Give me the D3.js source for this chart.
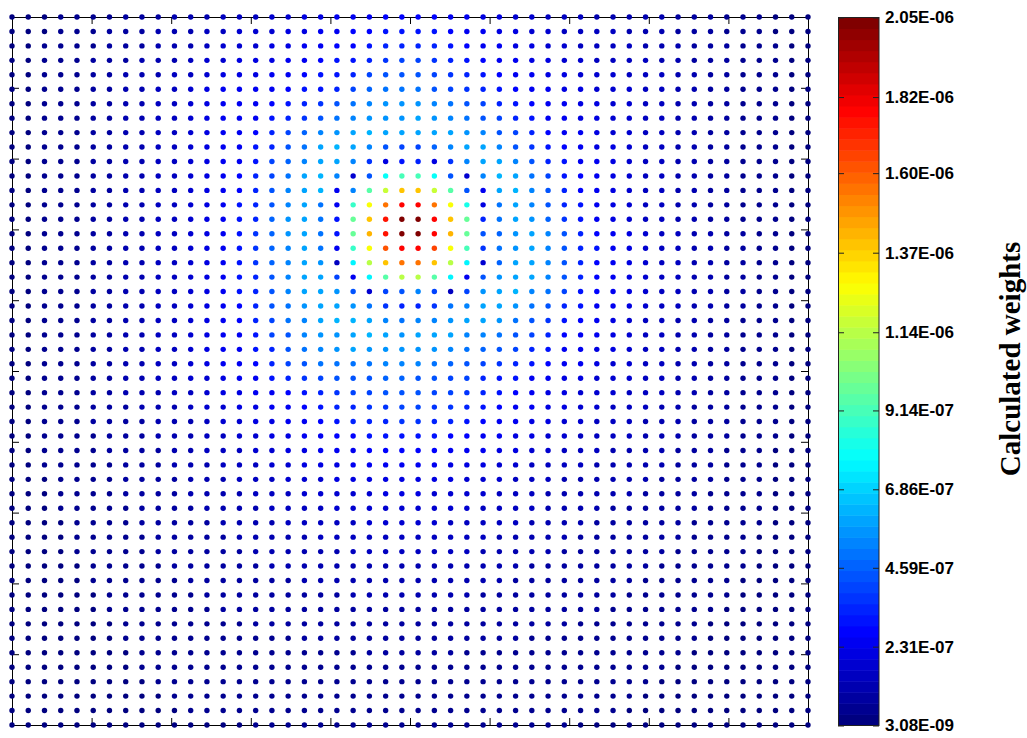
<!DOCTYPE html>
<html>
<head>
<meta charset="utf-8">
<script src="https://cdn.jsdelivr.net/npm/d3@7"></script>
<style>
  body { margin: 0; background: #fff; }
  .frame path, .frame line { stroke: #000; }
  .cbar text { font-family: "Liberation Sans", Arial, sans-serif; font-weight: bold; font-size: 17px; fill: #000; }
</style>
</head>
<body>
<div id="chart"></div>
<script>
// colour level (0 = darkest blue .. 61 = darkest red) of each dot,
// one string per grid row, top row first, 50 dots per row
var levelChars = "0123456789abcdefghijklmnopqrstuvwxyzABCDEFGHIJKLMNOPQRSTUVWXYZ";
var levelRows = [
  "000111122233" + "3444556677788" + "8877665544433" + "333222111000",
  "000111222333" + "4455566778899" + "9987766554444" + "333222111000",
  "001111222333" + "45556677889aa" + "aa98776655444" + "433322211100",
  "001112223334" + "5566677899abc" + "cba9877665544" + "443322211100",
  "001112233344" + "566677899acdd" + "dcba987766555" + "444332211100",
  "001112233445" + "67777899aceff" + "fdcba98776655" + "544332211100",
  "001112233445" + "677789abdfghh" + "hgfdca9877665" + "544332211100",
  "001112233445" + "67779abdfghhh" + "ihgfdca977665" + "544332211100",
  "001112233445" + "6778aceghijii" + "iiihgdca87765" + "544332211100",
  "001112233445" + "6779adfijigdc" + "cegiigdb98766" + "544332211100",
  "001112233445" + "6779cegiigb69" + "a6bgiigda9776" + "544332211100",
  "001112233445" + "678acfijg5dnr" + "rnd5gjifc9876" + "544332211100",
  "001112233445" + "678adgij7gszF" + "Fzsd7ijgda876" + "544332211100",
  "001112233445" + "679adgif7qCKR" + "RKCo6figda976" + "544332211100",
  "001112233445" + "679aehif9tFQZ" + "ZRFtafiheb976" + "544332211100",
  "001112233445" + "679behif9tGQZ" + "ZRGtdehigda87" + "654433221100",
  "001112233445" + "679begif7qCMR" + "RNCrbfhigda97" + "654433221100",
  "001112233445" + "679begih4myFK" + "KFym5eiigda87" + "654433221100",
  "001112233445" + "679adgiic7msy" + "ysm7dhiigda87" + "654433221100",
  "001112233445" + "679adgiihd5cd" + "gc4chijgfc987" + "654433221100",
  "001112233445" + "678adfhiihfba" + "abfgiihfda977" + "654433221100",
  "001112233445" + "678acfgijjigf" + "gghiihfdb9876" + "544332211100",
  "001112233445" + "6779cdghhijih" + "iiiggfdca8776" + "544332211100",
  "001112233445" + "6779adfghihhh" + "hhgfedca97766" + "544332211100",
  "001112233445" + "6778acdffffgg" + "gfedcba987765" + "544332211100",
  "001112233445" + "56779abcdddee" + "ddcca99776655" + "544332211100",
  "001112233344" + "5667789abccdd" + "dccba98766555" + "444332211100",
  "001112223334" + "55667789aabbc" + "cbba987766554" + "443322211100",
  "001112222333" + "455667789aaab" + "baa9877665544" + "433322211100",
  "001111222333" + "4455667788999" + "9988776655444" + "433322211100",
  "001111222233" + "4445566777888" + "8877766554443" + "333222111000",
  "001111122233" + "3444556667777" + "7766655444433" + "333222111000",
  "000111122223" + "3344455566666" + "6665554443333" + "332222111000",
  "000111122223" + "3334445555566" + "6555544433333" + "322221111000",
  "000111112222" + "3333444455555" + "5555444433332" + "222221111000",
  "000011112222" + "2333344444555" + "5544444333322" + "222211111000",
  "000011111222" + "2233333444444" + "4444433333222" + "222211110000",
  "000011111222" + "2223333334444" + "4444333332222" + "222111110000",
  "000001111122" + "2222333333333" + "3333333222222" + "221111110000",
  "000001111112" + "2222223333333" + "3333332222222" + "211111100000",
  "000000111111" + "2222222223333" + "3333222222222" + "111111100000",
  "000000111111" + "1222222222222" + "2222222222221" + "111111000000",
  "000000011111" + "1112222222222" + "2222222222111" + "111110000000",
  "000000011111" + "1111112222222" + "2222222111111" + "111110000000",
  "000000001111" + "1111111111222" + "2221111111111" + "111100000000",
  "000000001111" + "1111111111111" + "1111111111111" + "111000000000",
  "000000000111" + "1111111111111" + "1111111111111" + "110000000000",
  "000000000011" + "1111111111111" + "1111111111111" + "100000000000",
  "000000000001" + "1111111111111" + "1111111111111" + "000000000000",
  "000000000000" + "0001111111111" + "1111111111000" + "000000000000"
];

var weightMin = 3.08e-9, weightMax = 2.05e-6;
var colorTicks = [3.08e-9, 2.31e-7, 4.59e-7, 6.86e-7, 9.14e-7, 1.14e-6, 1.37e-6, 1.60e-6, 1.82e-6, 2.05e-6];
var gridTicks = [0.1, 0.2, 0.3, 0.4, 0.5, 0.6, 0.7, 0.8, 0.9];
var barTitle = "Calculated weights";

// levels -> weights
var nRows = levelRows.length, nCols = levelRows[0].length;
var points = [];
levelRows.forEach(function(row, r) {
    for (var c = 0; c < nCols; c++) {
        var lev = levelChars.indexOf(row[c]);
        points.push({
            col: c, row: r,
            w: weightMin + lev / 61 * (weightMax - weightMin)
        });
    }
});

function clamp(v) { return Math.max(0, Math.min(1, v)); }
function jet(t) {
    return d3.rgb(255 * clamp(1.5 - Math.abs(4 * t - 3)),
                  255 * clamp(1.5 - Math.abs(4 * t - 2)),
                  255 * clamp(1.5 - Math.abs(4 * t - 1)));
}
// 64 colour map like matlab
function colorOf(w) {
    var k = Math.floor((w - weightMin) / (weightMax - weightMin) * 64);
    k = Math.max(0, Math.min(63, k));
    return jet(k / 63);
}

var svg = d3.select("#chart").append("svg")
    .attr("width", 1027)
    .attr("height", 738);

var x = d3.scaleLinear().domain([0, 1]).range([12, 808]);
var y = d3.scaleLinear().domain([0, 1]).range([17, 725]);

// frame with inward ticks on all four sides
var frame = svg.append("g").attr("class", "frame");
frame.append("g").attr("transform", "translate(0,725)")
    .call(d3.axisBottom(x).tickValues(gridTicks).tickSizeInner(-7).tickSizeOuter(0).tickFormat(""));
frame.append("g").attr("transform", "translate(0,17)")
    .call(d3.axisTop(x).tickValues(gridTicks).tickSizeInner(-7).tickSizeOuter(0).tickFormat(""));
frame.append("g").attr("transform", "translate(12,0)")
    .call(d3.axisLeft(y).tickValues(gridTicks).tickSizeInner(-7).tickSizeOuter(0).tickFormat(""));
frame.append("g").attr("transform", "translate(808,0)")
    .call(d3.axisRight(y).tickValues(gridTicks).tickSizeInner(-7).tickSizeOuter(0).tickFormat(""));

svg.append("g").selectAll("circle")
    .data(points)
    .enter().append("circle")
    .attr("cx", function(d) { return x(d.col / (nCols - 1)); })
    .attr("cy", function(d) { return y(d.row / (nRows - 1)); })
    .attr("r", 2.7)
    .attr("fill", function(d) { return colorOf(d.w); });

// colour bar
var cy = d3.scaleLinear().domain([weightMin, weightMax]).range([725.5, 17.5]);
var bar = svg.append("g").attr("class", "cbar");
var bands = d3.range(64);
var step = (weightMax - weightMin) / 64;
bar.selectAll("rect.band")
    .data(bands)
    .enter().append("rect")
    .attr("class", "band")
    .attr("x", 838.5)
    .attr("width", 40.5)
    .attr("y", function(k) { return cy(weightMin + (k + 1) * step); })
    .attr("height", function(k) { return cy(weightMin + k * step) - cy(weightMin + (k + 1) * step) + 0.5; })
    .attr("fill", function(k) { return jet(k / 63); });

bar.append("rect")
    .attr("x", 838.5).attr("y", 17.5)
    .attr("width", 40.5).attr("height", 708)
    .attr("fill", "none").attr("stroke", "#222");

function fmt(v) {
    return v.toExponential(2).toUpperCase().replace(/E([+-])(\d)$/, "E$10$2");
}

var right = bar.append("g").attr("transform", "translate(879,0)")
    .call(d3.axisRight(cy).tickValues(colorTicks).tickSizeInner(-6).tickSizeOuter(0).tickPadding(6).tickFormat(fmt));
bar.append("g").attr("transform", "translate(838,0)")
    .call(d3.axisLeft(cy).tickValues(colorTicks).tickSizeInner(-6).tickSizeOuter(0).tickFormat(""));
bar.selectAll(".domain").remove();
bar.selectAll(".tick line").attr("stroke", "#222");
right.selectAll("text").attr("font-family", null).attr("font-size", null).attr("fill", null);

svg.append("text")
    .attr("transform", "translate(1020,359) rotate(-90)")
    .attr("text-anchor", "middle")
    .style("font-family", "'Liberation Serif', 'Times New Roman', serif")
    .style("font-weight", "bold")
    .style("font-size", "29px")
    .text(barTitle);
</script>
</body>
</html>
